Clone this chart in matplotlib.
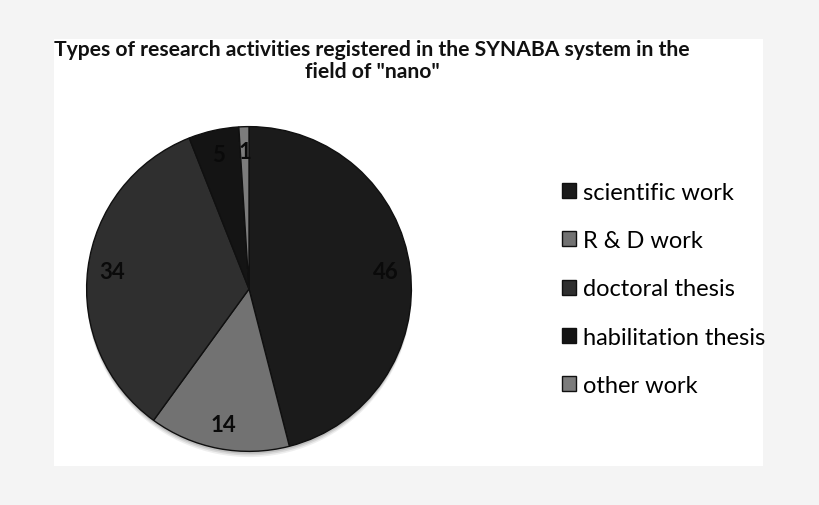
import matplotlib
matplotlib.use('Agg')
import matplotlib.pyplot as plt
from matplotlib import font_manager
from matplotlib.patches import Rectangle, Circle

categories = ['scientific work', 'R & D work', 'doctoral thesis', 'habilitation thesis', 'other work']
values = [46, 14, 34, 5, 1]
colors = ['#1b1b1b', '#727272', '#2f2f2f', '#141414', '#7c7c7c']
title = 'Types of research activities registered in the SYNABA system in the\nfield of "nano"'

names = {f.name for f in font_manager.fontManager.ttflist}
tfont = 'Liberation Sans Narrow' if 'Liberation Sans Narrow' in names else 'Lato'

fig = plt.figure(figsize=(8.2, 5.06), dpi=100)
fig.patch.set_facecolor('#f4f4f4')

# white chart area
fig.patches.append(Rectangle((54/820, 1-467/506), (763-54)/820, (467-40)/506,
                             transform=fig.transFigure, facecolor='white',
                             edgecolor='none', zorder=-1))

ax = fig.add_axes([85/820, 1-454/506, 328/820, 328/506])
ax.set_zorder(2)
ax.patch.set_alpha(0)
# soft shadow under the pie
for dy, a in [(-0.035, 0.12), (-0.025, 0.18), (-0.015, 0.25)]:
    ax.add_patch(Circle((0, dy), 1.0, facecolor='#777777', edgecolor='none',
                        alpha=a, zorder=0, clip_on=False))
wedges, texts = ax.pie(values, colors=colors, startangle=90, counterclock=False,
                       labels=[str(v) for v in values], labeldistance=0.85,
                       wedgeprops=dict(edgecolor='#101010', linewidth=1.0, zorder=1))
for t in texts:
    t.set_ha('center')
    t.set_va('center')
    t.set_fontsize(16)
    t.set_fontweight('bold')
    t.set_fontfamily('Lato')
    t.set_color('#0a0a0a')
    t.set_zorder(3)
ax.set_xlim(-1.01, 1.01)
ax.set_ylim(-1.01, 1.01)
ax.set_aspect('equal')

fig.text(0.454, 0.879, title, ha='center', va='center', fontsize=15.2,
         fontweight='bold', family=tfont, linespacing=1.15, color='#111111')

fig.legend(wedges, categories, loc='center left', bbox_to_anchor=(562/820, 0.427),
           frameon=False, borderpad=0, borderaxespad=0,
           handlelength=0.6, handleheight=0.6, handletextpad=0.3,
           labelspacing=1.16, prop={'family': 'Lato', 'size': 17})

fig.savefig('out.png', dpi=100, facecolor=fig.get_facecolor())
